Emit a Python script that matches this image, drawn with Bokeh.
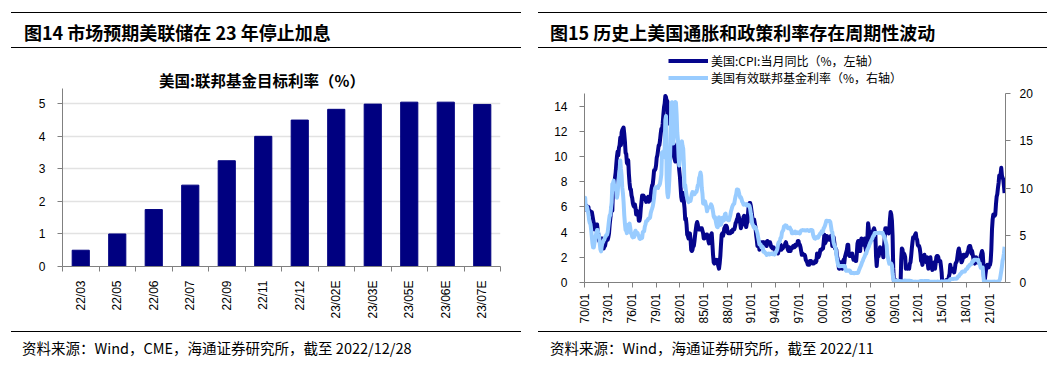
import math
from bokeh.plotting import figure
from bokeh.layouts import row, column
from bokeh.models import Range1d, LinearAxis, FixedTicker, Legend, LegendItem, Div
from bokeh.embed import file_html
from bokeh.resources import INLINE

# ---------------- data: left chart ----------------
fed_months = ["22/03", "22/05", "22/06", "22/07", "22/09", "22/11", "22/12",
              "23/02E", "23/03E", "23/05E", "23/06E", "23/07E"]
fed_target = [0.50, 1.00, 1.75, 2.50, 3.25, 4.00, 4.50, 4.83, 4.99, 5.05, 5.05, 4.98]

# ---------------- data: right chart (monthly, from 1970/01) ----------------
series_start_year = 1970
cpi_yoy = [
    6.2, 6.1, 5.8, 6.1, 6.0, 6.0, 6.0, 5.4, 5.7, 5.6, 5.6, 5.6,   # 1970
    5.3, 5.0, 4.7, 4.2, 4.4, 4.6, 4.4, 4.6, 4.1, 3.8, 3.3, 3.3,   # 1971
    3.3, 3.5, 3.5, 3.5, 3.2, 2.7, 2.9, 2.9, 3.2, 3.4, 3.7, 3.4,   # 1972
    3.6, 3.9, 4.6, 5.1, 5.5, 6.0, 5.7, 7.4, 7.4, 7.8, 8.3, 8.7,   # 1973
    9.4, 10.0, 10.4, 10.1, 10.7, 10.9, 11.5, 10.9, 11.9, 12.1, 12.2, 12.3,  # 1974
    11.8, 11.2, 10.3, 10.2, 9.5, 9.4, 9.7, 8.6, 7.9, 7.4, 7.4, 6.9,  # 1975
    6.7, 6.3, 6.1, 6.0, 6.2, 5.9, 5.4, 5.7, 5.5, 5.5, 4.9, 4.9,   # 1976
    5.2, 5.9, 6.4, 6.9, 6.7, 6.9, 6.8, 6.6, 6.6, 6.4, 6.7, 6.7,   # 1977
    6.8, 6.4, 6.6, 6.5, 6.9, 7.4, 7.7, 7.8, 8.3, 8.9, 8.9, 9.0,   # 1978
    9.3, 9.9, 10.1, 10.5, 10.9, 10.9, 11.3, 11.8, 12.2, 12.1, 12.6, 13.3,  # 1979
    13.9, 14.2, 14.8, 14.7, 14.4, 14.4, 13.1, 12.9, 12.6, 12.8, 12.6, 12.5,  # 1980
    11.8, 11.4, 10.5, 10.0, 9.8, 9.6, 10.8, 10.8, 11.0, 10.1, 9.6, 8.9,  # 1981
    8.4, 7.6, 6.8, 6.5, 6.7, 7.1, 6.4, 5.9, 5.0, 5.1, 4.6, 3.8,   # 1982
    3.7, 3.5, 3.6, 3.9, 3.5, 2.6, 2.5, 2.6, 2.9, 2.9, 3.3, 3.8,   # 1983
    4.2, 4.6, 4.8, 4.6, 4.2, 4.2, 4.2, 4.3, 4.3, 4.3, 4.1, 3.9,   # 1984
    3.5, 3.5, 3.7, 3.7, 3.8, 3.8, 3.6, 3.3, 3.1, 3.2, 3.5, 3.8,   # 1985
    3.9, 3.1, 2.2, 1.6, 1.5, 1.8, 1.6, 1.6, 1.8, 1.5, 1.3, 1.1,   # 1986
    1.5, 2.1, 3.0, 3.8, 3.9, 3.7, 3.9, 4.3, 4.4, 4.5, 4.5, 4.4,   # 1987
    4.0, 3.9, 3.9, 3.9, 3.9, 4.0, 4.1, 4.0, 4.2, 4.2, 4.2, 4.4,   # 1988
    4.7, 4.8, 5.0, 5.1, 5.4, 5.2, 5.0, 4.7, 4.3, 4.5, 4.7, 4.6,   # 1989
    5.2, 5.3, 5.2, 4.7, 4.4, 4.7, 4.8, 5.6, 6.2, 6.3, 6.3, 6.1,   # 1990
    5.7, 5.3, 4.9, 4.9, 5.0, 4.7, 4.4, 3.8, 3.4, 2.9, 3.0, 3.1,   # 1991
    2.6, 2.8, 3.2, 3.2, 3.0, 3.1, 3.2, 3.1, 3.0, 3.2, 3.0, 2.9,   # 1992
    3.3, 3.2, 3.1, 3.2, 3.2, 3.0, 2.8, 2.8, 2.7, 2.8, 2.7, 2.7,   # 1993
    2.5, 2.5, 2.5, 2.4, 2.3, 2.5, 2.8, 2.9, 3.0, 2.6, 2.7, 2.7,   # 1994
    2.8, 2.9, 2.9, 3.1, 3.2, 3.0, 2.8, 2.6, 2.5, 2.8, 2.6, 2.5,   # 1995
    2.7, 2.7, 2.8, 2.9, 2.9, 2.8, 3.0, 2.9, 3.0, 3.0, 3.3, 3.3,   # 1996
    3.0, 3.0, 2.8, 2.5, 2.2, 2.3, 2.2, 2.2, 2.2, 2.1, 1.8, 1.7,   # 1997
    1.6, 1.4, 1.4, 1.4, 1.7, 1.7, 1.7, 1.6, 1.5, 1.5, 1.5, 1.6,   # 1998
    1.7, 1.6, 1.7, 2.3, 2.1, 2.0, 2.1, 2.3, 2.6, 2.6, 2.6, 2.7,   # 1999
    2.7, 3.2, 3.8, 3.1, 3.2, 3.7, 3.7, 3.4, 3.5, 3.4, 3.4, 3.4,   # 2000
    3.7, 3.5, 2.9, 3.3, 3.6, 3.2, 2.7, 2.7, 2.6, 2.1, 1.9, 1.6,   # 2001
    1.1, 1.1, 1.5, 1.6, 1.2, 1.1, 1.5, 1.8, 1.5, 2.0, 2.2, 2.4,   # 2002
    2.6, 3.0, 3.0, 2.2, 2.1, 2.1, 2.1, 2.2, 2.3, 2.0, 1.8, 1.9,   # 2003
    1.9, 1.7, 1.7, 2.3, 3.1, 3.3, 3.0, 2.7, 2.5, 3.2, 3.5, 3.3,   # 2004
    3.0, 3.0, 3.1, 3.5, 2.8, 2.5, 3.2, 3.6, 4.7, 4.3, 3.5, 3.4,   # 2005
    4.0, 3.6, 3.4, 3.5, 4.2, 4.3, 4.1, 3.8, 2.1, 1.3, 2.0, 2.5,   # 2006
    2.1, 2.4, 2.8, 2.6, 2.7, 2.7, 2.4, 2.0, 2.8, 3.5, 4.3, 4.1,   # 2007
    4.3, 4.0, 4.0, 3.9, 4.2, 5.0, 5.6, 5.4, 4.9, 3.7, 1.1, 0.1,   # 2008
    0.0, 0.2, -0.4, -0.7, -1.3, -1.4, -2.1, -1.5, -1.3, -0.2, 1.8, 2.7,  # 2009
    2.6, 2.1, 2.3, 2.2, 2.0, 1.1, 1.2, 1.1, 1.1, 1.2, 1.1, 1.5,   # 2010
    1.6, 2.1, 2.7, 3.2, 3.6, 3.6, 3.6, 3.8, 3.9, 3.5, 3.4, 3.0,   # 2011
    2.9, 2.9, 2.7, 2.3, 1.7, 1.7, 1.4, 1.7, 2.0, 2.2, 1.8, 1.7,   # 2012
    1.6, 2.0, 1.5, 1.1, 1.4, 1.8, 2.0, 1.5, 1.2, 1.0, 1.2, 1.5,   # 2013
    1.6, 1.1, 1.5, 2.0, 2.1, 2.1, 2.0, 1.7, 1.7, 1.7, 1.3, 0.8,   # 2014
    -0.1, 0.0, -0.1, -0.2, 0.0, 0.1, 0.2, 0.2, 0.0, 0.2, 0.5, 0.7,  # 2015
    1.4, 1.0, 0.9, 1.1, 1.0, 1.0, 0.8, 1.1, 1.5, 1.6, 1.7, 2.1,   # 2016
    2.5, 2.7, 2.4, 2.2, 1.9, 1.6, 1.7, 1.9, 2.2, 2.0, 2.2, 2.1,   # 2017
    2.1, 2.2, 2.4, 2.5, 2.8, 2.9, 2.9, 2.7, 2.3, 2.5, 2.2, 1.9,   # 2018
    1.6, 1.5, 1.9, 2.0, 1.8, 1.6, 1.8, 1.7, 1.7, 1.8, 2.1, 2.3,   # 2019
    2.5, 2.3, 1.5, 0.3, 0.1, 0.6, 1.0, 1.3, 1.4, 1.2, 1.2, 1.4,   # 2020
    1.4, 1.7, 2.6, 4.2, 5.0, 5.4, 5.4, 5.3, 5.4, 6.2, 6.8, 7.0,   # 2021
    7.5, 7.9, 8.5, 8.3, 8.6, 9.1, 8.5, 8.3, 8.2, 7.7, 7.1,        # 2022
]
fed_funds_eff = [
    8.98, 8.98, 7.76, 8.10, 7.95, 7.61, 7.21, 6.61, 6.29, 6.20, 5.60, 4.90,   # 1970
    4.14, 3.72, 3.71, 4.15, 4.63, 4.91, 5.31, 5.56, 5.55, 5.20, 4.91, 4.14,   # 1971
    3.50, 3.29, 3.83, 4.17, 4.27, 4.46, 4.55, 4.80, 4.87, 5.04, 5.06, 5.33,   # 1972
    5.94, 6.58, 7.09, 7.12, 7.84, 8.49, 10.40, 10.50, 10.78, 10.01, 10.03, 9.95,  # 1973
    9.65, 8.97, 9.35, 10.51, 11.31, 11.93, 12.92, 12.01, 11.34, 10.06, 9.45, 8.53,  # 1974
    7.13, 6.24, 5.54, 5.49, 5.22, 5.55, 6.10, 6.14, 6.24, 5.82, 5.22, 5.20,   # 1975
    4.87, 4.77, 4.84, 4.82, 5.29, 5.48, 5.31, 5.29, 5.25, 5.02, 4.95, 4.65,   # 1976
    4.61, 4.68, 4.69, 4.73, 5.35, 5.39, 5.42, 5.90, 6.14, 6.47, 6.51, 6.56,   # 1977
    6.70, 6.78, 6.79, 6.89, 7.36, 7.60, 7.81, 8.04, 8.45, 8.96, 9.76, 10.03,  # 1978
    10.07, 10.06, 10.09, 10.01, 10.24, 10.29, 10.47, 10.94, 11.43, 13.77, 13.18, 13.78,  # 1979
    13.82, 14.13, 17.19, 17.61, 10.98, 9.47, 9.03, 9.61, 10.87, 12.81, 15.85, 18.90,  # 1980
    19.08, 15.93, 14.70, 15.72, 18.52, 19.10, 19.04, 17.82, 15.87, 15.08, 13.31, 12.37,  # 1981
    13.22, 14.78, 14.68, 14.94, 14.45, 14.15, 12.59, 10.12, 10.31, 9.71, 9.20, 8.95,  # 1982
    8.68, 8.51, 8.77, 8.80, 8.63, 8.98, 9.37, 9.56, 9.45, 9.48, 9.34, 9.47,   # 1983
    9.56, 9.59, 9.91, 10.29, 10.32, 11.06, 11.23, 11.64, 11.30, 9.99, 9.43, 8.38,  # 1984
    8.35, 8.50, 8.58, 8.27, 7.97, 7.53, 7.88, 7.90, 7.92, 7.99, 8.05, 8.27,   # 1985
    8.14, 7.86, 7.48, 6.99, 6.85, 6.92, 6.56, 6.17, 5.89, 5.85, 6.04, 6.91,   # 1986
    6.43, 6.10, 6.13, 6.37, 6.85, 6.73, 6.58, 6.73, 7.22, 7.29, 6.69, 6.77,   # 1987
    6.83, 6.58, 6.58, 6.87, 7.09, 7.51, 7.75, 8.01, 8.19, 8.30, 8.35, 8.76,   # 1988
    9.12, 9.36, 9.85, 9.84, 9.81, 9.53, 9.24, 8.99, 9.02, 8.84, 8.55, 8.45,   # 1989
    8.23, 8.24, 8.28, 8.26, 8.18, 8.29, 8.15, 8.13, 8.20, 8.11, 7.81, 7.31,   # 1990
    6.91, 6.25, 6.12, 5.91, 5.78, 5.90, 5.82, 5.66, 5.45, 5.21, 4.81, 4.43,   # 1991
    4.03, 4.06, 3.98, 3.73, 3.82, 3.76, 3.25, 3.30, 3.22, 3.10, 3.09, 2.92,   # 1992
    3.02, 3.03, 3.07, 2.96, 3.00, 3.04, 3.06, 3.03, 3.09, 2.99, 3.02, 2.96,   # 1993
    3.05, 3.25, 3.34, 3.56, 4.01, 4.25, 4.26, 4.47, 4.73, 4.76, 5.29, 5.45,   # 1994
    5.53, 5.92, 5.98, 6.05, 6.01, 6.00, 5.85, 5.74, 5.80, 5.76, 5.80, 5.60,   # 1995
    5.56, 5.22, 5.31, 5.22, 5.24, 5.27, 5.40, 5.22, 5.30, 5.24, 5.31, 5.29,   # 1996
    5.25, 5.19, 5.39, 5.51, 5.50, 5.56, 5.52, 5.54, 5.54, 5.50, 5.52, 5.50,   # 1997
    5.56, 5.51, 5.49, 5.45, 5.49, 5.56, 5.54, 5.55, 5.51, 5.07, 4.83, 4.68,   # 1998
    4.63, 4.76, 4.81, 4.74, 4.74, 4.76, 4.99, 5.07, 5.22, 5.20, 5.42, 5.30,   # 1999
    5.45, 5.73, 5.85, 6.02, 6.27, 6.53, 6.54, 6.50, 6.52, 6.51, 6.51, 6.40,   # 2000
    5.98, 5.49, 5.31, 4.80, 4.21, 3.97, 3.77, 3.65, 3.07, 2.49, 2.09, 1.82,   # 2001
    1.73, 1.74, 1.73, 1.75, 1.75, 1.75, 1.73, 1.74, 1.75, 1.75, 1.34, 1.24,   # 2002
    1.24, 1.26, 1.25, 1.26, 1.26, 1.22, 1.01, 1.03, 1.01, 1.01, 1.00, 0.98,   # 2003
    1.00, 1.01, 1.00, 1.00, 1.00, 1.03, 1.26, 1.43, 1.61, 1.76, 1.93, 2.16,   # 2004
    2.28, 2.50, 2.63, 2.79, 3.00, 3.04, 3.26, 3.50, 3.62, 3.78, 4.00, 4.16,   # 2005
    4.29, 4.49, 4.59, 4.79, 4.94, 4.99, 5.24, 5.25, 5.25, 5.25, 5.25, 5.24,   # 2006
    5.25, 5.26, 5.26, 5.25, 5.25, 5.25, 5.26, 5.02, 4.94, 4.76, 4.49, 4.24,   # 2007
    3.94, 2.98, 2.61, 2.28, 1.98, 2.00, 2.01, 2.00, 1.81, 0.97, 0.39, 0.16,   # 2008
    0.15, 0.22, 0.18, 0.15, 0.18, 0.21, 0.16, 0.16, 0.15, 0.12, 0.12, 0.12,   # 2009
    0.11, 0.13, 0.16, 0.20, 0.20, 0.18, 0.18, 0.19, 0.19, 0.19, 0.19, 0.18,   # 2010
    0.17, 0.16, 0.14, 0.10, 0.09, 0.09, 0.07, 0.10, 0.08, 0.07, 0.08, 0.07,   # 2011
    0.08, 0.10, 0.13, 0.14, 0.16, 0.16, 0.16, 0.13, 0.14, 0.16, 0.16, 0.16,   # 2012
    0.14, 0.15, 0.14, 0.15, 0.11, 0.09, 0.09, 0.08, 0.08, 0.09, 0.08, 0.09,   # 2013
    0.07, 0.07, 0.08, 0.09, 0.09, 0.10, 0.09, 0.09, 0.09, 0.09, 0.09, 0.12,   # 2014
    0.11, 0.11, 0.11, 0.12, 0.12, 0.13, 0.13, 0.14, 0.14, 0.12, 0.12, 0.24,   # 2015
    0.34, 0.38, 0.36, 0.37, 0.37, 0.38, 0.39, 0.40, 0.40, 0.40, 0.41, 0.54,   # 2016
    0.65, 0.66, 0.79, 0.90, 0.91, 1.04, 1.15, 1.16, 1.15, 1.15, 1.16, 1.30,   # 2017
    1.41, 1.42, 1.51, 1.69, 1.70, 1.82, 1.91, 1.91, 1.95, 2.19, 2.20, 2.27,   # 2018
    2.40, 2.40, 2.41, 2.42, 2.39, 2.38, 2.40, 2.13, 2.04, 1.83, 1.55, 1.55,   # 2019
    1.55, 1.58, 0.65, 0.05, 0.05, 0.08, 0.09, 0.10, 0.09, 0.09, 0.09, 0.09,   # 2020
    0.09, 0.08, 0.07, 0.07, 0.06, 0.08, 0.10, 0.09, 0.08, 0.08, 0.08, 0.08,   # 2021
    0.08, 0.08, 0.20, 0.33, 0.77, 1.21, 1.68, 2.33, 2.56, 3.08, 3.78,         # 2022
]
xtick_years = [1970, 1973, 1976, 1979, 1982, 1985, 1988, 1991, 1994,
               1997, 2000, 2003, 2006, 2009, 2012, 2015, 2018, 2021]
xtick_labels = ["70/01", "73/01", "76/01", "79/01", "82/01", "85/01", "88/01", "91/01", "94/01",
                "97/01", "00/01", "03/01", "06/01", "09/01", "12/01", "15/01", "18/01", "21/01"]
left_ticks = [0, 2, 4, 6, 8, 10, 12, 14]
right_ticks = [0, 5, 10, 15, 20]

title_left = "图14 市场预期美联储在 23 年停止加息"
title_right = "图15 历史上美国通胀和政策利率存在周期性波动"
chart_title_left = "美国:联邦基金目标利率（%）"
legend_labels = ["美国:CPI:当月同比（%，左轴）", "美国有效联邦基金利率（%，右轴）"]
source_left = "资料来源：Wind，CME，海通证券研究所，截至 2022/12/28"
source_right = "资料来源：Wind，海通证券研究所，截至 2022/11"

CJK = "Noto Sans CJK SC"
LAT = "Liberation Sans"
NAVY = "#000080"
DARK = "#05058C"
LIGHT = "#99CCFF"
AXIS_GRAY = "#808080"

LW, RW = 528, 520          # column widths (page content starts at x=0)
FOOT_H = 31


def line_html(x0, x1, top):
    return (f'<div style="position:absolute;left:{x0}px;top:{top}px;width:{x1 - x0}px;height:0;'
            f'border-top:1.5px solid #000;"></div>')


def text_html(x, cy, text, size, bold=False, center=False, lh=24):
    tf = "transform:translateX(-50%);" if center else ""
    fw = "bold" if bold else "normal"
    return (f'<div style="position:absolute;left:{x}px;top:{cy - lh / 2}px;height:{lh}px;'
            f'line-height:{lh}px;{tf}font-family:\'{CJK}\';font-size:{size}px;font-weight:{fw};'
            f'white-space:nowrap;color:#000;">{text}</div>')


def box_div(w, h, inner):
    html = (f'<div style="position:relative;width:{w}px;height:{h}px;margin:0;padding:0;">'
            f'{inner}</div>')
    return Div(text=html, width=w, height=h, margin=0)


def style_axis(ax, standoff, tick_out=5):
    ax.axis_line_color = AXIS_GRAY
    ax.major_tick_line_color = AXIS_GRAY
    ax.major_tick_out = tick_out
    ax.major_tick_in = 0
    ax.minor_tick_line_color = None
    ax.major_label_standoff = standoff
    ax.major_label_text_font = LAT
    ax.major_label_text_font_size = "12px"
    ax.major_label_text_color = "black"


# ---------------- left panel ----------------
HL = 88
hL = box_div(LW, HL, line_html(11, 521, 11.5) + text_html(24, 32, title_left, 18, bold=True)
             + line_html(11, 521, 47) + text_html(262, 80, chart_title_left, 15.5, bold=True,
                                                  center=True, lh=18))

pos = [i + 0.5 for i in range(len(fed_months))]
p1 = figure(width=LW, height=326 - HL, x_range=Range1d(0, len(fed_months)), y_range=Range1d(0, 5.47),
            toolbar_location=None, output_backend="svg", title=None,
            min_border_left=62, min_border_right=28, min_border_top=0, min_border_bottom=60)
p1.outline_line_color = None
p1.vbar(x=pos, top=fed_target, width=0.47, fill_color=NAVY, line_color=NAVY)
p1.xgrid.visible = False
p1.ygrid.ticker = FixedTicker(ticks=[0, 1, 2, 3, 4, 5])
p1.ygrid.grid_line_color = "#e2e2e2"
p1.ygrid.grid_line_width = 1.5
ya = p1.yaxis[0]
ya.ticker = FixedTicker(ticks=[0, 1, 2, 3, 4, 5])
style_axis(ya, 12)
xa = p1.xaxis[0]
xa.ticker = FixedTicker(ticks=pos, minor_ticks=list(range(len(fed_months) + 1)))
xa.major_label_overrides = {float(c): lab for c, lab in zip(pos, fed_months)}
style_axis(xa, 9, tick_out=0)
xa.minor_tick_out = 5
xa.minor_tick_in = 0
xa.minor_tick_line_color = AXIS_GRAY
xa.major_label_orientation = math.pi / 2

fL = box_div(LW, FOOT_H, line_html(11, 521, 5) + text_html(22, 21.7, source_left, 14.5, lh=18))

# ---------------- right panel ----------------
HR = 50
hR = box_div(RW, HR, line_html(10, 519, 11.5) + text_html(22, 32, title_right, 18, bold=True)
             + line_html(10, 519, 47))

BL, BR = 56, 43             # left / right borders shared by the legend strip and the chart
LEG_H = 36
pl = figure(width=RW, height=LEG_H, x_range=Range1d(0, 1), y_range=Range1d(0, 1),
            x_axis_type=None, y_axis_type=None, toolbar_location=None, output_backend="svg",
            title=None, min_border_left=BL, min_border_right=BR, min_border_top=0,
            min_border_bottom=0)
pl.outline_line_color = None
# legend-only keys (a single NaN point, so nothing is drawn in the strip itself)
k_cpi = pl.line(x=[float("nan")], y=[float("nan")], line_color=DARK, line_width=4)
k_ffr = pl.line(x=[float("nan")], y=[float("nan")], line_color=LIGHT, line_width=4)
for key, lab, yoff in ((k_cpi, legend_labels[0], 17), (k_ffr, legend_labels[1], 0)):
    lg = Legend(items=[LegendItem(label=lab, renderers=[key])],
                location=(84, yoff), orientation="vertical", glyph_width=40, glyph_height=15,
                label_height=15, label_standoff=3, spacing=0, padding=0, margin=0,
                border_line_color=None, background_fill_alpha=0,
                label_text_font=CJK, label_text_font_size="12px", label_text_color="black")
    pl.add_layout(lg, "center")

x_cpi = [series_start_year + i / 12 for i in range(len(cpi_yoy))]
x_ffr = [series_start_year + i / 12 for i in range(len(fed_funds_eff))]
p2 = figure(width=RW, height=326 - HR - LEG_H, x_range=Range1d(1970, 2022.95), y_range=Range1d(0, 15),
            toolbar_location=None, output_backend="svg", title=None,
            min_border_left=BL, min_border_right=BR, min_border_top=7, min_border_bottom=44)
p2.outline_line_color = None
p2.grid.visible = False
p2.extra_y_ranges = {"right": Range1d(0, 20)}
p2.line(x_cpi, cpi_yoy, line_color=DARK, line_width=4, line_join="round")
p2.line(x_ffr, fed_funds_eff, line_color=LIGHT, line_width=4, line_join="round",
        y_range_name="right")

ly = p2.yaxis[0]
ly.ticker = FixedTicker(ticks=left_ticks)
style_axis(ly, 12)
ra = LinearAxis(y_range_name="right", ticker=FixedTicker(ticks=right_ticks))
p2.add_layout(ra, "right")
style_axis(ra, 9)

bx = p2.xaxis[0]
bx.ticker = FixedTicker(ticks=xtick_years)
bx.major_label_overrides = {y: lab for y, lab in zip(xtick_years, xtick_labels)}
style_axis(bx, 6)
bx.major_label_orientation = math.pi / 2

fR = box_div(RW, FOOT_H, line_html(10, 519, 5) + text_html(22, 21.7, source_right, 14.5, lh=18))

layout = row(column(hL, p1, fL), column(hR, pl, p2, fR))
open("out.html", "w").write(file_html(layout, INLINE, title="chart"))
